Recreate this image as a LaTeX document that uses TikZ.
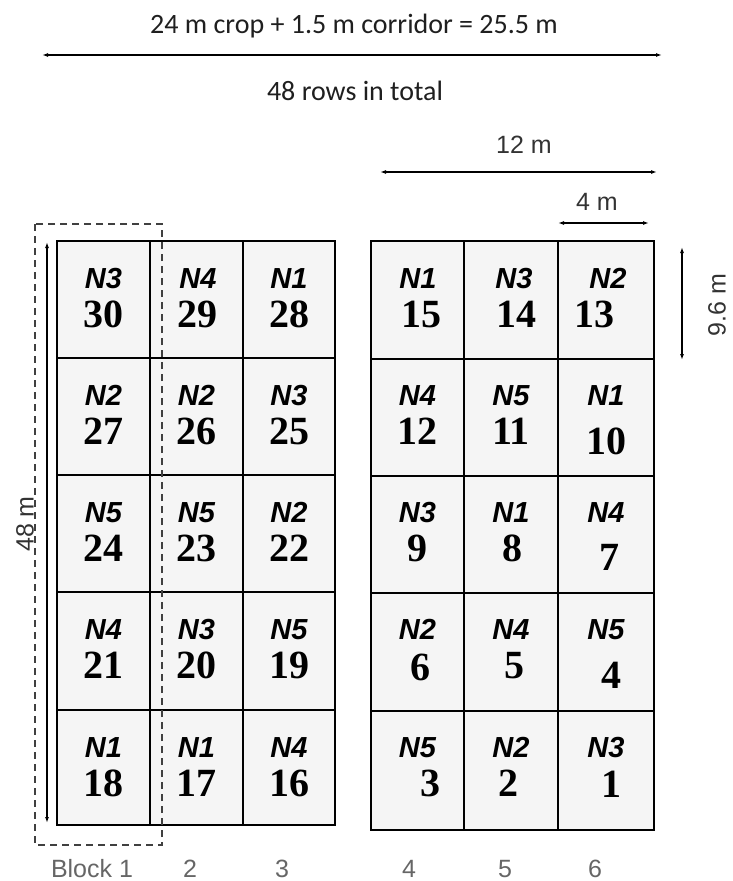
\documentclass[tikz,border=0pt]{standalone}
\usepackage{fontspec}
\setmainfont{Liberation Serif}
\setsansfont{Liberation Sans}
\newfontfamily\calibri{Carlito}
\usepackage{tikz}
\tikzset{
	plotnum/.style={font=\bfseries\fontsize{40}{40}\selectfont,anchor=base},
	treat/.style={font=\sffamily\bfseries\itshape\fontsize{29}{29}\selectfont,anchor=base},
	dimlabel/.style={font=\sffamily\fontsize{25}{25}\selectfont,text=black!80},
	blocklabel/.style={font=\sffamily\fontsize{25}{25}\selectfont,text=black!60,anchor=base},
	dimline/.style={line width=1.6pt,{Latex[length=6pt,width=4pt]}-{Latex[length=6pt,width=4pt]}},
	gridline/.style={line width=1.8pt},
	cellfill/.style={fill=black!4}
}
\usetikzlibrary{arrows.meta}

\begin{document}
\begin{tikzpicture}[x=1pt,y=-1pt]
\useasboundingbox (0,0) rectangle (732,881);
%
\coordinate (LT) at (57,241);
\coordinate (LB) at (335,825);
\coordinate (RT) at (371,241);
\coordinate (RB) at (654,830);
\fill[cellfill] (LT) rectangle (LB);
\fill[cellfill] (RT) rectangle (RB);
\begin{scope}[gridline]
\draw (LT) rectangle (LB);
\draw (RT) rectangle (RB);
\draw (150,241) to (150,825);
\draw (243,241) to (243,825);
\draw (464,241) to (464,830);
\draw (558,241) to (558,830);
\draw (57,358) to (335,358);
\draw (57,475) to (335,475);
\draw (57,592) to (335,592);
\draw (57,710) to (335,710);
\draw (371,359) to (654,359);
\draw (371,476) to (654,476);
\draw (371,593) to (654,593);
\draw (371,711) to (654,711);
\end{scope}
%
\draw[black!75,line width=1.5pt,dash pattern=on 7pt off 5pt] (35,224) rectangle (162,845);
%
\node[treat] (n30) at (103.5,288) {N3}; \node[plotnum] (30) at (103.5,327) {30};
\node[treat] (n29) at (198,288) {N4};   \node[plotnum] (29) at (197,327) {29};
\node[treat] (n28) at (289,288) {N1};   \node[plotnum] (28) at (289,327) {28};
\node[treat] (n27) at (103.5,405) {N2}; \node[plotnum] (27) at (103.5,444) {27};
\node[treat] (n26) at (196.5,405) {N2}; \node[plotnum] (26) at (196.5,444) {26};
\node[treat] (n25) at (289,405) {N3};   \node[plotnum] (25) at (289,444) {25};
\node[treat] (n24) at (103.5,522) {N5}; \node[plotnum] (24) at (103.5,561) {24};
\node[treat] (n23) at (196.5,522) {N5}; \node[plotnum] (23) at (196.5,561) {23};
\node[treat] (n22) at (289,522) {N2};   \node[plotnum] (22) at (289,561) {22};
\node[treat] (n21) at (103.5,639) {N4}; \node[plotnum] (21) at (103.5,678) {21};
\node[treat] (n20) at (196.5,639) {N3}; \node[plotnum] (20) at (196.5,678) {20};
\node[treat] (n19) at (289,639) {N5};   \node[plotnum] (19) at (289,678) {19};
\node[treat] (n18) at (103.5,757) {N1}; \node[plotnum] (18) at (103.5,796) {18};
\node[treat] (n17) at (196.5,757) {N1}; \node[plotnum] (17) at (196.5,796) {17};
\node[treat] (n16) at (289,757) {N4};   \node[plotnum] (16) at (289,796) {16};
%
\node[treat] (n15) at (418,288) {N1};   \node[plotnum] (15) at (421,327) {15};
\node[treat] (n14) at (514,288) {N3};   \node[plotnum] (14) at (516,327) {14};
\node[treat] (n13) at (608,288) {N2};   \node[plotnum] (13) at (594,327) {13};
\node[treat] (n12) at (417.5,405) {N4}; \node[plotnum] (12) at (417.5,444) {12};
\node[treat] (n11) at (511,405) {N5};   \node[plotnum] (11) at (511,444) {11};
\node[treat] (n10) at (606,405) {N1};   \node[plotnum] (10) at (606,454) {10};
\node[treat] (n9) at (417.5,522) {N3};  \node[plotnum] (9) at (417.5,561) {9};
\node[treat] (n8) at (511,522) {N1};    \node[plotnum] (8) at (512,561) {8};
\node[treat] (n7) at (606,522) {N4};    \node[plotnum] (7) at (609,570) {7};
\node[treat] (n6) at (417.5,639) {N2};  \node[plotnum] (6) at (420,680) {6};
\node[treat] (n5) at (511,639) {N4};    \node[plotnum] (5) at (514,678) {5};
\node[treat] (n4) at (606,639) {N5};    \node[plotnum] (4) at (611,688) {4};
\node[treat] (n3) at (417.5,757) {N5};  \node[plotnum] (3) at (430,796) {3};
\node[treat] (n2) at (511,757) {N2};    \node[plotnum] (2) at (508,796) {2};
\node[treat] (n1) at (606,757) {N3};    \node[plotnum] (1) at (611,797) {1};
%
\coordinate (wl) at (42,55);
\coordinate (wr) at (662,55);
\draw[dimline] (wl) to (wr);
\node[font=\calibri\fontsize{28}{28}\selectfont,text=black!88,anchor=base] (width) at (354,33) {24 m crop + 1.5 m corridor = 25.5 m};
\node[font=\calibri\fontsize{28}{28}\selectfont,text=black!88,anchor=base] (rows) at (355,100) {48 rows in total};
%
\coordinate (tl) at (380,172);
\coordinate (tr) at (657,172);
\draw[dimline] (tl) to (tr);
\node[dimlabel,anchor=base] (twelve) at (524,153) {12 m};
\coordinate (pl) at (558,223);
\coordinate (pr) at (649,223);
\draw[dimline] (pl) to (pr);
\node[dimlabel,anchor=base] (four) at (597,210) {4 m};
\coordinate (pt) at (682,247);
\coordinate (pb) at (682,360);
\draw[dimline] (pt) to (pb);
\node[dimlabel,rotate=90] (plotlen) at (717,305) {9.6 m};
\coordinate (lt) at (47,242);
\coordinate (lb) at (47,823);
\draw[dimline] (lt) to (lb);
\node[dimlabel,rotate=90] (len) at (25,524) {48 m};
%
\node[blocklabel] (b1) at (92,877) {Block 1};
\node[blocklabel] (b2) at (190,877) {2};
\node[blocklabel] (b3) at (282,877) {3};
\node[blocklabel] (b4) at (409,877) {4};
\node[blocklabel] (b5) at (505,877) {5};
\node[blocklabel] (b6) at (595,877) {6};
\end{tikzpicture}
\end{document}
